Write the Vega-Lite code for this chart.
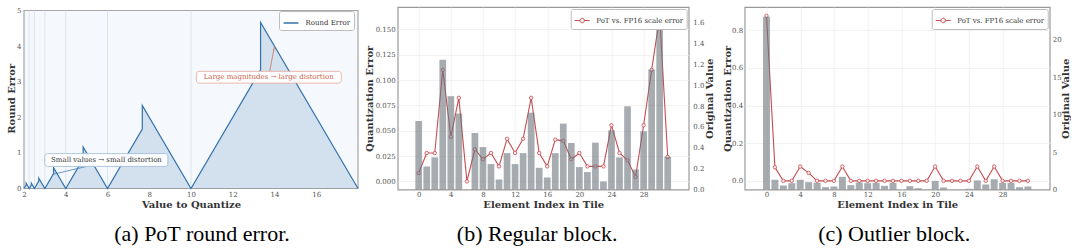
{
  "$schema": "https://vega.github.io/schema/vega-lite/v6.json",
  "background": "white",
  "padding": {"left": 6, "top": 6, "right": 0, "bottom": 0},
  "config": {
    "font": "DejaVu Serif",
    "view": {"stroke": "#9a9a9a", "strokeWidth": 1.2},
    "axis": {"labelFont": "DejaVu Serif", "labelFontSize": 7, "labelColor": "#555555", "titleFont": "DejaVu Serif", "titleFontSize": 10, "titleFontWeight": "bold", "titleColor": "#333333", "ticks": false, "domain": false, "grid": false, "labelPadding": 2, "labelOverlap": false},
    "legend": {"labelFont": "DejaVu Serif", "labelFontSize": 7, "labelColor": "#333333", "padding": 3.5, "fillColor": "white", "strokeColor": "#bdbdbd", "cornerRadius": 2, "labelOffset": 6, "offset": 2, "orient": "top-right"},
    "title": {"font": "Liberation Serif", "fontSize": 22, "fontWeight": "normal", "color": "#000000", "orient": "bottom", "anchor": "middle", "offset": 14}
  },
  "datasets": {
    "curve": [
      {"i": 0, "x": 2, "e": 0},
      {"i": 1, "x": 2.104, "e": 0.104},
      {"i": 2, "x": 2.104, "e": 0.146},
      {"i": 3, "x": 2.25, "e": 0},
      {"i": 4, "x": 2.354, "e": 0.104},
      {"i": 5, "x": 2.354, "e": 0.146},
      {"i": 6, "x": 2.5, "e": 0},
      {"i": 7, "x": 2.708, "e": 0.208},
      {"i": 8, "x": 2.708, "e": 0.292},
      {"i": 9, "x": 3, "e": 0},
      {"i": 10, "x": 3.417, "e": 0.417},
      {"i": 11, "x": 3.417, "e": 0.583},
      {"i": 12, "x": 4, "e": 0},
      {"i": 13, "x": 4.833, "e": 0.833},
      {"i": 14, "x": 4.833, "e": 1.167},
      {"i": 15, "x": 6, "e": 0},
      {"i": 16, "x": 7.667, "e": 1.667},
      {"i": 17, "x": 7.667, "e": 2.333},
      {"i": 18, "x": 10, "e": 0},
      {"i": 19, "x": 13.333, "e": 3.333},
      {"i": 20, "x": 13.333, "e": 4.667},
      {"i": 21, "x": 18, "e": 0}
    ],
    "levels": [{"q": 2.25}, {"q": 2.5}, {"q": 3}, {"q": 4}, {"q": 6}, {"q": 10}],
    "regular": [
      {"idx": 0, "val": 0.657, "err": 0.0082},
      {"idx": 1, "val": 0.221, "err": 0.028},
      {"idx": 2, "val": 0.308, "err": 0.028},
      {"idx": 3, "val": 1.244, "err": 0.110},
      {"idx": 4, "val": 0.895, "err": 0.044},
      {"idx": 5, "val": 0.728, "err": 0.0824},
      {"idx": 6, "val": 0.0, "err": 0.0},
      {"idx": 7, "val": 0.542, "err": 0.0317},
      {"idx": 8, "val": 0.407, "err": 0.0218},
      {"idx": 9, "val": 0.244, "err": 0.028},
      {"idx": 10, "val": 0.096, "err": 0.0148},
      {"idx": 11, "val": 0.349, "err": 0.0419},
      {"idx": 12, "val": 0.244, "err": 0.028},
      {"idx": 13, "val": 0.349, "err": 0.042},
      {"idx": 14, "val": 0.737, "err": 0.0824},
      {"idx": 15, "val": 0.208, "err": 0.028},
      {"idx": 16, "val": 0.115, "err": 0.0148},
      {"idx": 17, "val": 0.349, "err": 0.0412},
      {"idx": 18, "val": 0.632, "err": 0.040},
      {"idx": 19, "val": 0.446, "err": 0.0218},
      {"idx": 20, "val": 0.215, "err": 0.028},
      {"idx": 21, "val": 0.167, "err": 0.0148},
      {"idx": 22, "val": 0.449, "err": 0.0148},
      {"idx": 23, "val": 0.077, "err": 0.0148},
      {"idx": 24, "val": 0.567, "err": 0.0554},
      {"idx": 25, "val": 0.308, "err": 0.028},
      {"idx": 26, "val": 0.798, "err": 0.0208},
      {"idx": 27, "val": 0.192, "err": 0.0043},
      {"idx": 28, "val": 0.558, "err": 0.0554},
      {"idx": 29, "val": 1.151, "err": 0.110},
      {"idx": 30, "val": 1.664, "err": 0.1625},
      {"idx": 31, "val": 0.314, "err": 0.024}
    ],
    "outlier": [
      {"idx": 0, "val": 23.06, "err": 0.876},
      {"idx": 1, "val": 1.29, "err": 0.072},
      {"idx": 2, "val": 0.53, "err": 0.0},
      {"idx": 3, "val": 0.84, "err": 0.0},
      {"idx": 4, "val": 1.29, "err": 0.076},
      {"idx": 5, "val": 0.98, "err": 0.042},
      {"idx": 6, "val": 0.89, "err": 0.0},
      {"idx": 7, "val": 0.31, "err": 0.0},
      {"idx": 8, "val": 0.40, "err": 0.0},
      {"idx": 9, "val": 1.69, "err": 0.076},
      {"idx": 10, "val": 0.58, "err": 0.0},
      {"idx": 11, "val": 0.93, "err": 0.0},
      {"idx": 12, "val": 0.84, "err": 0.0},
      {"idx": 13, "val": 0.89, "err": 0.0},
      {"idx": 14, "val": 0.49, "err": 0.0},
      {"idx": 15, "val": 0.89, "err": 0.0},
      {"idx": 16, "val": 0.0, "err": 0.0},
      {"idx": 17, "val": 0.44, "err": 0.0},
      {"idx": 18, "val": 0.18, "err": 0.0},
      {"idx": 19, "val": 0.0, "err": 0.0},
      {"idx": 20, "val": 1.15, "err": 0.076},
      {"idx": 21, "val": 0.27, "err": 0.0},
      {"idx": 22, "val": 0.0, "err": 0.0},
      {"idx": 23, "val": 0.0, "err": 0.0},
      {"idx": 24, "val": 0.1, "err": 0.0},
      {"idx": 25, "val": 1.2, "err": 0.076},
      {"idx": 26, "val": 0.67, "err": 0.0},
      {"idx": 27, "val": 1.37, "err": 0.076},
      {"idx": 28, "val": 0.89, "err": 0.0},
      {"idx": 29, "val": 0.89, "err": 0.0},
      {"idx": 30, "val": 0.31, "err": 0.0},
      {"idx": 31, "val": 0.40, "err": 0.0}
    ]
  },
  "bounds": "flush",
  "spacing": 39.7,
  "resolve": {"scale": {"stroke": "independent"}, "legend": {"stroke": "independent"}},
  "hconcat": [
    {
      "width": 334,
      "height": 182.5,
      "view": {"stroke": null},
      "title": {"text": "(a) PoT round error.", "dx": 11},
      "layer": [
        {
          "data": {"values": [{}]},
          "mark": {"type": "rect", "fill": "#f5f8fc", "stroke": "#a5a5a5", "strokeWidth": 1.2},
          "encoding": {
            "x": {"datum": 2, "type": "quantitative", "scale": {"domain": [2, 18], "nice": false, "zero": false}},
            "x2": {"datum": 18},
            "y": {"datum": 0, "type": "quantitative", "scale": {"domain": [-0.028, 5.098], "nice": false, "zero": false}},
            "y2": {"datum": 5}
          }
        },
        {
          "data": {"name": "levels"},
          "mark": {"type": "rule", "color": "#d3e0ee", "strokeWidth": 0.8},
          "encoding": {
            "x": {"field": "q", "type": "quantitative"},
            "y": {"datum": 0, "type": "quantitative"},
            "y2": {"datum": 5}
          }
        },
        {
          "data": {"name": "curve"},
          "mark": {"type": "area", "color": "#2e6fae", "opacity": 0.17},
          "encoding": {
            "x": {"field": "x", "type": "quantitative",
                  "axis": {"title": "Value to Quantize", "values": [2, 4, 6, 8, 10, 12, 14, 16], "format": "d", "labelPadding": 1, "titlePadding": 2, "labelFlush": false}},
            "y": {"field": "e", "type": "quantitative", "stack": null,
                  "axis": {"title": "Round Error", "values": [0, 1, 2, 3, 4, 5], "format": "d", "labelPadding": 3, "minExtent": 8, "maxExtent": 8, "titlePadding": 0, "tickCount": 6}}
          }
        },
        {
          "data": {"name": "curve"},
          "mark": {"type": "line", "strokeWidth": 1.2},
          "encoding": {
            "x": {"field": "x", "type": "quantitative",
                  "axis": {"title": "Value to Quantize", "values": [2, 4, 6, 8, 10, 12, 14, 16], "format": "d", "labelPadding": 1, "titlePadding": 2, "labelFlush": false}},
            "y": {"field": "e", "type": "quantitative",
                  "axis": {"title": "Round Error", "values": [0, 1, 2, 3, 4, 5], "format": "d", "labelPadding": 3, "minExtent": 8, "maxExtent": 8, "titlePadding": 0, "tickCount": 6}},
            "order": {"field": "i", "type": "quantitative"},
            "stroke": {"datum": "Round Error", "type": "nominal", "scale": {"range": ["#3372ad"]},
                       "legend": {"title": null, "symbolType": "stroke", "symbolSize": 220, "symbolStrokeWidth": 1.5, "offset": 4}}
          }
        },
        {
          "data": {"values": [{}]},
          "mark": {"type": "rule", "color": "#4a82b8", "strokeWidth": 0.8},
          "encoding": {"x": {"datum": 5.0, "type": "quantitative"}, "y": {"datum": 0.62, "type": "quantitative"}, "x2": {"datum": 3.4}, "y2": {"datum": 0.4}}
        },
        {
          "data": {"values": [{}]},
          "mark": {"type": "point", "shape": "wedge", "filled": true, "color": "#4a82b8", "size": 14, "angle": 257, "opacity": 1},
          "encoding": {"x": {"datum": 3.55, "type": "quantitative"}, "y": {"datum": 0.42, "type": "quantitative"}}
        },
        {
          "data": {"values": [{}]},
          "mark": {"type": "rule", "color": "#d0705c", "strokeWidth": 0.8},
          "encoding": {"x": {"datum": 13.77, "type": "quantitative"}, "y": {"datum": 3.29, "type": "quantitative"}, "x2": {"datum": 14.0}, "y2": {"datum": 4.0}}
        },
        {
          "data": {"values": [{}]},
          "mark": {"type": "point", "shape": "wedge", "filled": true, "color": "#d0705c", "size": 14, "angle": 9, "opacity": 1},
          "encoding": {"x": {"datum": 13.97, "type": "quantitative"}, "y": {"datum": 3.9, "type": "quantitative"}}
        },
        {
          "data": {"values": [{}]},
          "mark": {"type": "rect", "fill": "white", "fillOpacity": 0.92, "stroke": "#9ab8d6", "strokeWidth": 0.8, "cornerRadius": 2.5},
          "encoding": {"x": {"datum": 3.0, "type": "quantitative"}, "x2": {"datum": 8.89}, "y": {"datum": 0.62, "type": "quantitative"}, "y2": {"datum": 0.98}}
        },
        {
          "data": {"values": [{}]},
          "mark": {"type": "rect", "fill": "white", "fillOpacity": 0.92, "stroke": "#e3a898", "strokeWidth": 0.8, "cornerRadius": 2.5},
          "encoding": {"x": {"datum": 10.26, "type": "quantitative"}, "x2": {"datum": 17.2}, "y": {"datum": 2.96, "type": "quantitative"}, "y2": {"datum": 3.29}}
        },
        {
          "data": {"values": [{"label": "Small values → small distortion", "lx": 5.95, "ly": 0.806}]},
          "mark": {"type": "text", "font": "DejaVu Serif", "fontSize": 7, "color": "#333333", "align": "center", "baseline": "middle"},
          "encoding": {"x": {"field": "lx", "type": "quantitative"}, "y": {"field": "ly", "type": "quantitative"}, "text": {"field": "label"}}
        },
        {
          "data": {"values": [{"label": "Large magnitudes → large distortion", "lx": 13.72, "ly": 3.13}]},
          "mark": {"type": "text", "font": "DejaVu Serif", "fontSize": 7, "color": "#c95f4b", "align": "center", "baseline": "middle"},
          "encoding": {"x": {"field": "lx", "type": "quantitative"}, "y": {"field": "ly", "type": "quantitative"}, "text": {"field": "label"}}
        }
      ]
    },
    {
      "bounds": "flush",
      "spacing": 56,
      "resolve": {"scale": {"stroke": "independent"}, "legend": {"stroke": "independent"}},
      "hconcat": [
        {
          "width": 291,
          "height": 182.5,
          "title": {"text": "(b) Regular block.", "dx": -6},
          "data": {"name": "regular"},
          "layer": [
            {
              "mark": {"type": "line", "strokeWidth": 1.1, "point": {"filled": true, "fill": "#fbecec", "stroke": "#c44e52", "strokeWidth": 0.8, "size": 12}},
              "encoding": {
                "x": {"field": "idx", "type": "quantitative", "scale": {"domain": [-1.99, 32.99], "nice": false, "zero": false},
                      "axis": {"title": "Element Index in Tile", "values": [0, 4, 8, 12, 16, 20, 24, 28], "grid": true, "gridColor": "#ececec", "gridWidth": 0.7, "labelPadding": 1, "titlePadding": 2}},
                "y": {"field": "err", "type": "quantitative", "scale": {"domain": [-0.008, 0.172], "nice": false, "zero": false},
                      "axis": {"title": "Quantization Error", "values": [0, 0.025, 0.05, 0.075, 0.1, 0.125, 0.15], "format": ".3f", "grid": true, "gridColor": "#ececec", "gridWidth": 0.7, "labelPadding": 2.5, "minExtent": 22, "maxExtent": 22, "titlePadding": 1.5}},
                "stroke": {"datum": "PoT vs. FP16 scale error", "type": "nominal", "scale": {"range": ["#c44e52"]},
                           "legend": {"title": null, "symbolType": "M-1,0H-0.3M0.3,0H1M0.3,0A0.3,0.3,0,1,1,-0.3,0A0.3,0.3,0,1,1,0.3,0", "symbolSize": 225, "symbolStrokeWidth": 1, "symbolFillColor": "#fbecec"}}
              }
            },
            {
              "mark": {"type": "bar", "color": "#6c757d", "opacity": 0.6, "width": 6.7},
              "encoding": {
                "x": {"field": "idx", "type": "quantitative"},
                "y": {"field": "val", "type": "quantitative", "scale": {"domain": [0, 1.75], "nice": false},
                      "axis": {"orient": "right", "title": "Original Value", "values": [0, 0.2, 0.4, 0.6, 0.8, 1.0, 1.2, 1.4, 1.6], "format": ".1f", "labelPadding": 4, "minExtent": 14, "maxExtent": 14, "titlePadding": 1.5, "titleAngle": 270, "titleBaseline": "top"}}
              }
            }
          ],
          "resolve": {"scale": {"y": "independent"}}
        },
        {
          "width": 305,
          "height": 182.5,
          "title": {"text": "(c) Outlier block.", "dx": -3},
          "data": {"name": "outlier"},
          "layer": [
            {
              "mark": {"type": "line", "strokeWidth": 1.1, "point": {"filled": true, "fill": "#fbecec", "stroke": "#c44e52", "strokeWidth": 0.8, "size": 12}},
              "encoding": {
                "x": {"field": "idx", "type": "quantitative", "scale": {"domain": [-1.99, 32.99], "nice": false, "zero": false},
                      "axis": {"title": "Element Index in Tile", "values": [0, 4, 8, 12, 16, 20, 24, 28], "grid": true, "gridColor": "#ececec", "gridWidth": 0.7, "labelPadding": 1, "titlePadding": 2}},
                "y": {"field": "err", "type": "quantitative", "scale": {"domain": [-0.046, 0.923], "nice": false, "zero": false},
                      "axis": {"title": "Quantization Error", "values": [0, 0.2, 0.4, 0.6, 0.8], "format": ".1f", "grid": true, "gridColor": "#ececec", "gridWidth": 0.7, "labelPadding": 2, "minExtent": 10.5, "maxExtent": 10.5, "titlePadding": 2}},
                "stroke": {"datum": "PoT vs. FP16 scale error", "type": "nominal", "scale": {"range": ["#c44e52"]},
                           "legend": {"title": null, "symbolType": "M-1,0H-0.3M0.3,0H1M0.3,0A0.3,0.3,0,1,1,-0.3,0A0.3,0.3,0,1,1,0.3,0", "symbolSize": 225, "symbolStrokeWidth": 1, "symbolFillColor": "#fbecec"}}
              }
            },
            {
              "mark": {"type": "bar", "color": "#6c757d", "opacity": 0.6, "width": 7},
              "encoding": {
                "x": {"field": "idx", "type": "quantitative"},
                "y": {"field": "val", "type": "quantitative", "scale": {"domain": [0, 24.35], "nice": false},
                      "axis": {"orient": "right", "title": "Original Value", "values": [0, 5, 10, 15, 20], "format": "d", "labelPadding": 2.5, "minExtent": 9.5, "maxExtent": 9.5, "titlePadding": 1, "titleAngle": 270, "titleBaseline": "top"}}
              }
            }
          ],
          "resolve": {"scale": {"y": "independent"}}
        }
      ]
    }
  ]
}
